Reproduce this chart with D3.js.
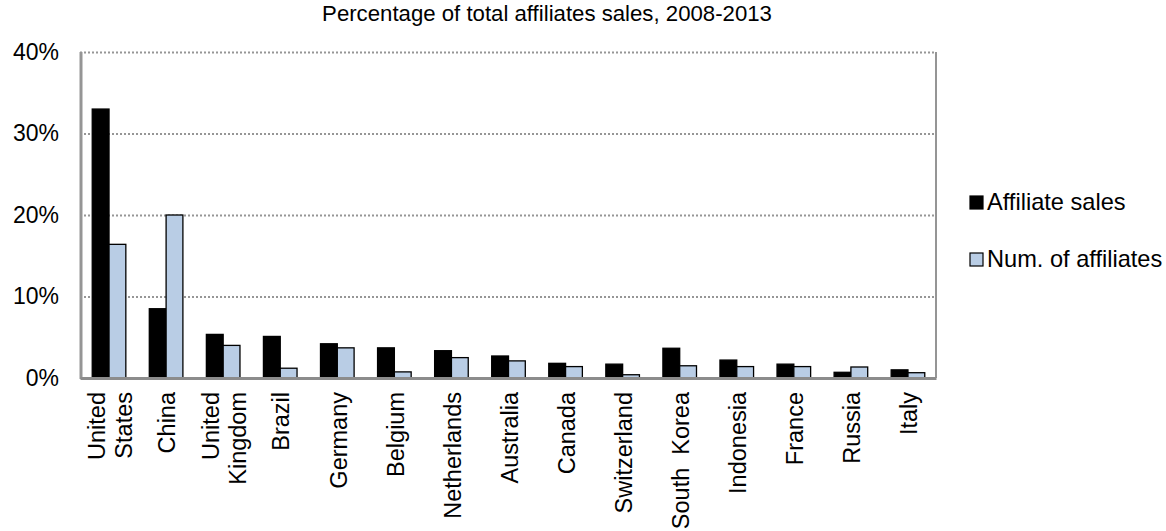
<!DOCTYPE html>
<html>
<head>
<meta charset="utf-8">
<script src="https://cdn.jsdelivr.net/npm/d3@7"></script>
<style>
  html, body { margin: 0; padding: 0; background: #fff; }
  svg { display: block; font-family: "Liberation Sans", Arial, sans-serif; }
</style>
</head>
<body>
<svg id="chart" width="1166" height="531"></svg>
<script>
const categories = ["United\nStates", "China", "United\nKingdom", "Brazil", "Germany", "Belgium",
  "Netherlands", "Australia", "Canada", "Switzerland", "South  Korea", "Indonesia", "France", "Russia", "Italy"];
const seriesNames = ["Affiliate sales", "Num. of affiliates"];
const affiliateSales = [33.0, 8.5, 5.35, 5.1, 4.2, 3.7, 3.35, 2.7, 1.8, 1.7, 3.65, 2.2, 1.7, 0.7, 1.0];
const numAffiliates = [16.4, 20.0, 4.0, 1.2, 3.7, 0.75, 2.5, 2.1, 1.4, 0.4, 1.5, 1.4, 1.4, 1.35, 0.65];
const yTicks = [0, 10, 20, 30, 40];
const title = "Percentage of total affiliates sales, 2008-2013";
const colors = ["#000000", "#b9cde5"];

const svg = d3.select("#chart");
const pLeft = 80, pRight = 936, pTop = 52, pBottom = 378;

const x = d3.scaleBand().domain(categories).range([pLeft, pRight]).padding(0);
const bw = 16.8;
const xInner = d3.scaleBand().domain(seriesNames).range([0, 2 * bw]);
const y = d3.scaleLinear().domain([0, 40]).range([pBottom, pTop]);

// Title
svg.append("text").attr("x", 547).attr("y", 21).attr("text-anchor", "middle")
  .attr("font-size", 22.2).attr("fill", "#000").text(title);

// Gridlines (dotted)
const yAxisGrid = d3.axisLeft(y).tickValues(yTicks.filter(d => d > 0)).tickSize(-(pRight - pLeft)).tickFormat("");
const grid = svg.append("g").attr("transform", `translate(${pLeft},0)`).call(yAxisGrid);
grid.select(".domain").remove();
grid.selectAll(".tick line").attr("stroke", "#969696").attr("stroke-width", 2).attr("stroke-dasharray", "2,2");

// Y tick labels
const yAxis = d3.axisLeft(y).tickValues(yTicks).tickSize(0).tickPadding(21).tickFormat(d => d + "%");
const ya = svg.append("g").attr("transform", `translate(${pLeft},0)`).call(yAxis);
ya.select(".domain").remove();
ya.selectAll("text").attr("font-size", 23).attr("fill", "#000").attr("font-family", "Liberation Sans, Arial, sans-serif");

// Bars
const data = categories.map((c, i) => ({ c, vals: [affiliateSales[i], numAffiliates[i]] }));
const groups = svg.append("g").selectAll("g").data(data).join("g")
  .attr("transform", d => `translate(${x(d.c) + x.bandwidth() / 2 - bw + 0.5},0)`);
groups.selectAll("rect").data(d => d.vals.map((v, j) => ({ v, s: seriesNames[j], j })))
  .join("rect")
  .attr("x", d => xInner(d.s))
  .attr("width", xInner.bandwidth())
  .attr("y", d => y(d.v))
  .attr("height", d => y(0) - y(d.v))
  .attr("fill", d => colors[d.j])
  .attr("stroke", "#000").attr("stroke-width", 1.3);

// Frame: left, right, bottom solid gray
svg.append("line").attr("x1", pLeft + 1).attr("x2", pLeft + 1).attr("y1", pTop).attr("y2", pBottom + 1)
  .attr("stroke", "#959595").attr("stroke-width", 3);
svg.append("line").attr("x1", pRight).attr("x2", pRight).attr("y1", pTop).attr("y2", pBottom)
  .attr("stroke", "#959595").attr("stroke-width", 2);
const xAxis = d3.axisBottom(x).tickSize(0).tickFormat("");
const xa = svg.append("g").attr("transform", `translate(0,${pBottom})`).call(xAxis);
xa.select(".domain").attr("stroke", "#8c8c8c").attr("stroke-width", 3);

// X labels rotated
const lh = 27;
const labels = svg.append("g").selectAll("text").data(categories).join("text")
  .attr("transform", d => `translate(${x(d) + x.bandwidth() / 2 + 1.5},392) rotate(-90)`)
  .attr("text-anchor", "end")
  .attr("font-size", 23.5)
  .attr("fill", "#000")
  .style("white-space", "pre");
labels.each(function (d) {
  const lines = d.split("\n");
  const t = d3.select(this);
  lines.forEach((ln, i) => {
    t.append("tspan").attr("x", 0)
      .attr("y", (i - (lines.length - 1) / 2) * lh)
      .attr("dy", "0.35em")
      .text(ln);
  });
});

// Legend
const legend = svg.append("g").selectAll("g").data(seriesNames).join("g")
  .attr("transform", (d, i) => `translate(970,${196 + i * 57})`);
legend.append("rect").attr("width", 13).attr("height", 13)
  .attr("fill", (d, i) => colors[i]).attr("stroke", "#000").attr("stroke-width", 1.2);
legend.append("text").attr("x", 17).attr("y", 14).attr("font-size", 23.6).attr("fill", "#000").text(d => d);
</script>
</body>
</html>
